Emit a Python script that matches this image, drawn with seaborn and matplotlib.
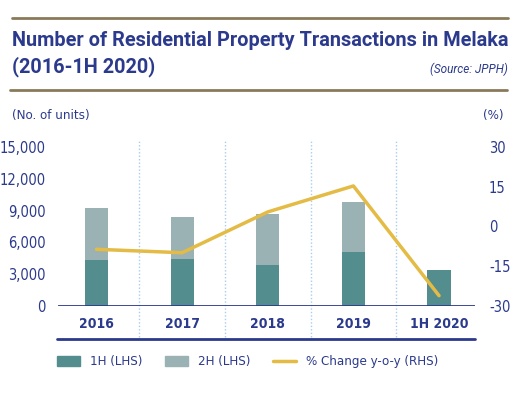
import numpy as np
import matplotlib
matplotlib.use("Agg")
import matplotlib.pyplot as plt
from matplotlib.lines import Line2D
from matplotlib.patches import Patch
from matplotlib.transforms import blended_transform_factory
from matplotlib import font_manager
import seaborn as sns

categories = ['2016', '2017', '2018', '2019', '1H 2020']
h1_units = [4350, 4430, 3860, 5080, 3390]
h2_units = [4880, 3950, 4800, 4710, 0]
pct_change = [-8.6, -9.9, 5.5, 15.3, -26.1]
left_ticks = [0, 3000, 6000, 9000, 12000, 15000]
right_ticks = [-30, -15, 0, 15, 30]

NAVY = '#2B3A8C'
DARK = '#548D8D'
LIGHT = '#9AB2B3'
GOLD = '#E3BB45'
RULE = '#8A7A5A'
DOT = '#A9CDEA'

sns.set_theme(style='white')
plt.rcParams['font.family'] = ['DejaVu Sans']

fp_tick = font_manager.FontProperties(family='DejaVu Sans', stretch='condensed', size=10.5)
fp_leg = font_manager.FontProperties(family='DejaVu Sans', stretch='condensed', size=9.5)
fp_cat = font_manager.FontProperties(family='DejaVu Sans', stretch='condensed', weight='bold', size=10)

fig = plt.figure(figsize=(5.21, 3.98), dpi=100)
ax = fig.add_axes([58/521, (398-306)/398, (475-58)/521, (306-147)/398])

totals = [a + b for a, b in zip(h1_units, h2_units)]
sns.barplot(x=categories, y=totals, color=LIGHT, width=0.27, saturation=1, linewidth=0, ax=ax, zorder=2)
sns.barplot(x=categories, y=h1_units, color=DARK, width=0.27, saturation=1, linewidth=0, ax=ax, zorder=3)

ax.set_xlim(-0.45, 4.42)
ax.set_ylim(0, 15000)
ax.set_yticks(left_ticks)
ax.set_yticklabels([f'{v:,}' for v in left_ticks], color=NAVY, fontproperties=fp_tick)
ax.set_xticks(range(len(categories)))
ax.set_xticklabels(categories, color=NAVY, fontproperties=fp_cat)
ax.tick_params(axis='y', length=0, pad=9)
ax.tick_params(axis='x', length=0, pad=8)
ax.set_xlabel('')
ax.set_ylabel('')
for s in ax.spines.values():
    s.set_visible(False)
ax.grid(False)

ax.axhline(0, color=NAVY, lw=2, zorder=5)
trans = blended_transform_factory(ax.transData, ax.transAxes)
ax.vlines([0.5, 1.5, 2.5, 3.5], -0.195, 1.044, transform=trans, colors=DOT,
          linestyles=(0, (1, 1.5)), lw=1, clip_on=False, zorder=1)
fig.add_artist(Line2D([57/521, 475/521], [(398-339)/398]*2, color=NAVY, lw=2))

ax2 = ax.twinx()
sns.lineplot(x=np.arange(len(categories)), y=pct_change, color=GOLD, lw=2.5, ax=ax2, zorder=6)
ax2.set_ylim(-30, 30)
ax2.set_yticks(right_ticks)
ax2.set_yticklabels([str(v) for v in right_ticks], color=NAVY, fontproperties=fp_tick)
ax2.tick_params(axis='y', length=0, pad=10)
ax2.set_ylabel('')
for s in ax2.spines.values():
    s.set_visible(False)
ax2.grid(False)

# title block
fig.add_artist(Line2D([12/521, 508/521], [(398-18)/398]*2, color=RULE, lw=2))
fig.add_artist(Line2D([10/521, 507/521], [(398-90)/398]*2, color=RULE, lw=2))
fig.text(12/521, 1-40/398, 'Number of Residential Property Transactions in Melaka',
         color=NAVY, fontsize=14.3, fontweight='bold', family=['Roboto', 'DejaVu Sans'], va='center')
fig.text(12/521, 1-67/398, '(2016-1H 2020)',
         color=NAVY, fontsize=14.3, fontweight='bold', family=['Roboto', 'DejaVu Sans'], va='center')
fig.text(508/521, 1-69/398, '(Source: JPPH)', color=NAVY, fontsize=8.5, style='italic',
         family=['Roboto', 'DejaVu Sans'], ha='right', va='center')
fig.text(12/521, 1-115/398, '(No. of units)', color=NAVY, fontproperties=fp_leg, va='center')
fig.text(503/521, 1-115/398, '(%)', color=NAVY, fontproperties=fp_leg, va='center', ha='right')

handles = [Patch(color=DARK), Patch(color=LIGHT), Line2D([], [], color=GOLD, lw=2.5)]
labels = ['1H (LHS)', '2H (LHS)', '% Change y-o-y (RHS)']
fig.legend(handles, labels, loc='center left', bbox_to_anchor=(57/521, 1-362/398),
           ncol=3, frameon=False, borderpad=0, borderaxespad=0,
           handlelength=1.75, handleheight=0.85, handletextpad=0.75, columnspacing=1.7,
           prop=fp_leg, labelcolor=NAVY)

fig.savefig('out.png', dpi=100)
